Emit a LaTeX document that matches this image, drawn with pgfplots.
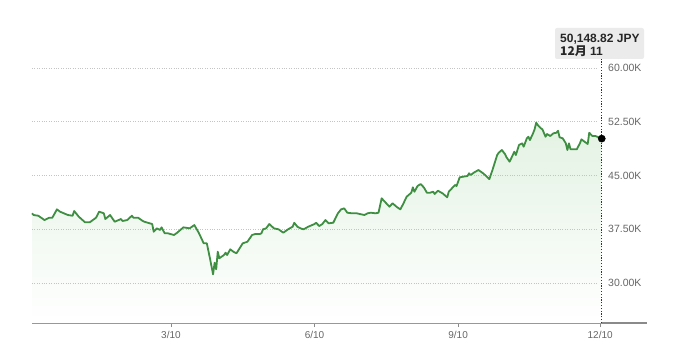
\documentclass[border=0pt]{standalone}
\usepackage{fontspec}
\setmainfont{Liberation Sans}
\newfontfamily\cjk{Noto Sans CJK JP}
\usepackage{pgfplots}
\pgfplotsset{compat=1.18}
\usepackage{pgfplotstable}
\definecolor{linegreen}{HTML}{3F8F43}
\definecolor{fillgreen}{HTML}{E3F2E3}
\definecolor{gridgray}{HTML}{C4C4C4}
\definecolor{labgray}{HTML}{666666}
\definecolor{axisgray}{HTML}{8A8A8A}
\definecolor{boxgray}{HTML}{EBEBEB}
\pgfplotstableread{
day value
0 39730
1 39490
4 39390
8 38790
11 39110
13 39110
16 40280
18 39950
23 39490
26 39390
27 40050
30 39250
34 38470
37 38470
41 39110
43 39950
46 39730
47 38930
50 39490
53 38550
57 38930
58 38650
61 38790
64 39390
65 39110
68 39110
71 38650
72 38550
77 38230
78 37160
80 37630
82 37400
83 37770
85 36940
87 36940
91 36700
93 37020
97 37770
101 37630
104 38090
107 36940
110 35540
112 35540
114 33450
116 31210
117 32830
118 31910
119 34370
120 33450
123 33910
124 34230
125 33910
127 34700
129 34370
131 34150
135 35540
138 35760
141 36700
143 36840
146 36840
147 36940
148 37490
150 37630
152 38230
155 37630
158 37490
161 37020
164 37490
167 37860
168 38410
170 37860
172 37630
174 37490
177 37860
181 38230
182 38410
184 37950
186 38230
188 38790
190 38330
193 38410
196 39730
198 40280
200 40420
202 39810
205 39730
208 39730
210 39630
213 39490
215 39730
217 39810
220 39730
222 39810
224 41820
226 41350
229 40650
231 41120
234 40560
236 40280
238 41120
240 42040
243 42600
244 43350
245 42740
247 43540
249 43810
251 43350
253 42600
255 42600
257 42740
258 42420
260 42880
263 42520
266 41960
267 42740
269 43210
271 43680
272 43540
274 44750
276 44830
279 44930
280 45310
281 45070
283 45390
286 45770
289 45310
291 44930
293 44500
295 45770
298 47860
299 48180
301 48560
303 48000
304 47540
306 46930
308 47860
309 48320
310 47860
312 49260
314 49490
315 49020
317 50190
318 50410
319 49950
321 50890
322 51450
323 52370
324 52050
326 51590
327 51450
329 50410
330 50790
332 50510
334 50890
336 50970
337 51250
338 50330
340 50190
342 49490
343 48560
344 49490
345 48660
348 48660
349 48660
351 49490
352 50050
354 49720
356 49400
357 50970
359 50510
361 50510
365 50148.82
}\nikkei
\begin{document}
\begin{tikzpicture}
\useasboundingbox (0pt,0pt) rectangle (680pt,359pt);
\begin{axis}[
  at={(32pt,36pt)}, anchor=south west,
  scale only axis, width=615pt, height=265pt,
  xmin=0, xmax=394, ymin=24420, ymax=61400,
  axis x line=bottom, axis y line=none,
  axis line style={axisgray, line width=1.4pt, -},
  xtick={89,181,273,364},
  xticklabels={3/10,6/10,9/10,12/10},
  xtick style={axisgray, line width=0.8pt},
  tick align=outside, major tick length=4pt,
  xticklabel style={font=\fontsize{10}{12}\selectfont, text=labgray, yshift=-1pt},
  clip=false,
]
\addplot[draw=none, top color=fillgreen, bottom color=white] table[x=day,y=value] {\nikkei} \closedcycle;
\draw[gridgray, line width=0.8pt, dash pattern=on 0.8pt off 1.6pt] (axis cs:0,30000) -- (axis cs:362,30000);
\draw[gridgray, line width=0.8pt, dash pattern=on 0.8pt off 1.6pt] (axis cs:0,37500) -- (axis cs:362,37500);
\draw[gridgray, line width=0.8pt, dash pattern=on 0.8pt off 1.6pt] (axis cs:0,45000) -- (axis cs:362,45000);
\draw[gridgray, line width=0.8pt, dash pattern=on 0.8pt off 1.6pt] (axis cs:0,52500) -- (axis cs:362,52500);
\draw[gridgray, line width=0.8pt, dash pattern=on 0.8pt off 1.6pt] (axis cs:0,60000) -- (axis cs:362,60000);
\addplot[linegreen, line width=1.8pt, line join=round] table[x=day,y=value] {\nikkei};
\draw[black!80, line width=1.2pt, dash pattern=on 1.2pt off 1.6pt] (axis cs:365,24420) -- (axis cs:365,61400);
\addplot[only marks, mark=*, mark size=3.6pt, black] coordinates {(365,50148.82)};
\node[anchor=west, text=labgray, font=\fontsize{10.5}{12}\selectfont, inner sep=0pt] at (axis cs:369,60000) {60.00K};
\node[anchor=west, text=labgray, font=\fontsize{10.5}{12}\selectfont, inner sep=0pt] at (axis cs:369,52500) {52.50K};
\node[anchor=west, text=labgray, font=\fontsize{10.5}{12}\selectfont, inner sep=0pt] at (axis cs:369,45000) {45.00K};
\node[anchor=west, text=labgray, font=\fontsize{10.5}{12}\selectfont, inner sep=0pt] at (axis cs:369,37500) {37.50K};
\node[anchor=west, text=labgray, font=\fontsize{10.5}{12}\selectfont, inner sep=0pt] at (axis cs:369,30000) {30.00K};
\end{axis}
\fill[boxgray, rounded corners=2pt] (555pt,300pt) rectangle (644pt,331pt);
\node[anchor=north west, inner sep=0pt, align=left, text=black!85, font=\fontsize{12}{12.5}\selectfont\bfseries] at (560pt,325pt) {50,148.82 JPY\\{\cjk 12月} 11};
\end{tikzpicture}
\end{document}
